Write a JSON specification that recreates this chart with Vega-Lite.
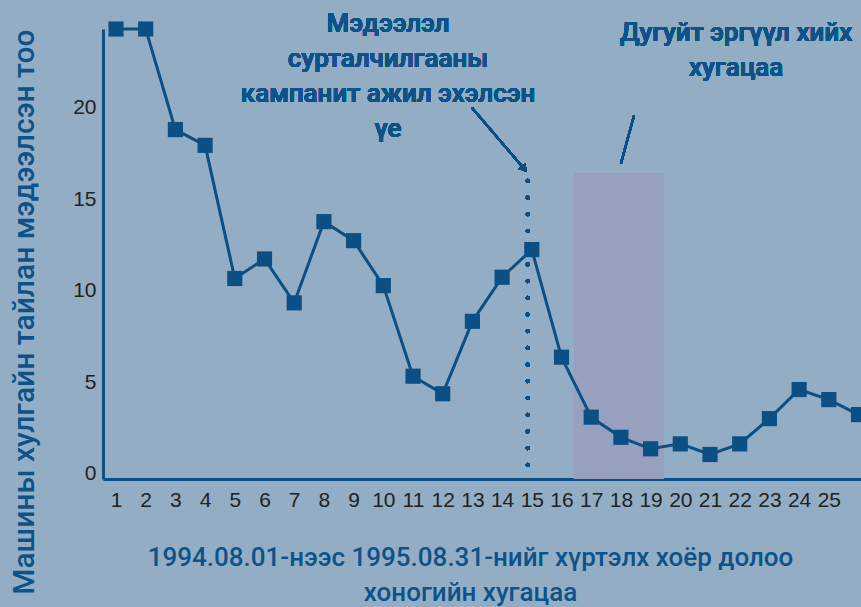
{
  "$schema": "https://vega.github.io/schema/vega-lite/v6.json",
  "width": 770,
  "height": 450,
  "autosize": "none",
  "padding": {"left": 103, "top": 29, "right": 0, "bottom": 128},
  "background": "#93aec4",
  "config": {
    "view": {"stroke": null},
    "axis": {"grid": false, "ticks": false, "domainColor": "#0b4f84", "domainWidth": 3, "labelFont": "Liberation Sans", "labelFontSize": 21, "labelColor": "#222222"}
  },
  "data": {"values": [
    {"week": 1, "count": 24.3},
    {"week": 2, "count": 24.3},
    {"week": 3, "count": 18.8},
    {"week": 4, "count": 17.94},
    {"week": 5, "count": 10.66},
    {"week": 6, "count": 11.73},
    {"week": 7, "count": 9.33},
    {"week": 8, "count": 13.77},
    {"week": 9, "count": 12.73},
    {"week": 10, "count": 10.27},
    {"week": 11, "count": 5.32},
    {"week": 12, "count": 4.36},
    {"week": 13, "count": 8.32},
    {"week": 14, "count": 10.73},
    {"week": 15, "count": 12.24},
    {"week": 16, "count": 6.36},
    {"week": 17, "count": 3.08},
    {"week": 18, "count": 1.98},
    {"week": 19, "count": 1.35},
    {"week": 20, "count": 1.62},
    {"week": 21, "count": 1.04},
    {"week": 22, "count": 1.62},
    {"week": 23, "count": 3.0},
    {"week": 24, "count": 4.59},
    {"week": 25, "count": 4.04},
    {"week": 26, "count": 3.22}
  ]},
  "layer": [
    {
      "mark": {"type": "rect", "fill": "#98a0c0"},
      "encoding": {
        "x": {"datum": 16.42, "type": "quantitative", "scale": {"domain": [0.5623, 26.488], "nice": false, "zero": false}},
        "x2": {"datum": 19.45},
        "y": {"datum": 16.39, "type": "quantitative", "scale": {"domain": [-0.3, 24.3], "nice": false, "zero": false}},
        "y2": {"datum": -0.3}
      }
    },
    {
      "mark": {"type": "line", "color": "#0b4f84", "strokeWidth": 3},
      "encoding": {
        "x": {"field": "week", "type": "quantitative", "scale": {"domain": [0.5623, 26.488], "nice": false, "zero": false},
          "axis": {"values": [1,2,3,4,5,6,7,8,9,10,11,12,13,14,15,16,17,18,19,20,21,22,23,24,25], "tickCount": 40, "format": "d", "labelFlush": false, "labelOverlap": false, "labelPadding": 10,
            "title": ["1994.08.01-нээс 1995.08.31-нийг хүртэлх хоёр долоо", "хоногийн хугацаа"],
            "titleFont": "Roboto", "titleFontSize": 26, "titleFontWeight": 500, "titleColor": "#0d5289", "titleLineHeight": 35,
            "titleX": 367, "titleY": 65, "titleBaseline": "top", "titleAlign": "center"}},
        "y": {"field": "count", "type": "quantitative", "scale": {"domain": [-0.3, 24.3], "nice": false, "zero": false},
          "axis": {"values": [0, 5, 10, 15, 20], "tickCount": 10, "format": "d", "labelPadding": 7,
            "title": "Машины хулгайн тайлан мэдээлсэн тоо",
            "titleFont": "Roboto", "titleFontSize": 30, "titleFontWeight": 500, "titleColor": "#0d5289",
            "titleAnchor": "end", "titleX": -79, "titleBaseline": "middle"}}
      }
    },
    {
      "mark": {"type": "point", "shape": "square", "filled": true, "size": 230, "fill": "#0b4f84", "strokeWidth": 0, "opacity": 1},
      "encoding": {
        "x": {"field": "week", "type": "quantitative"},
        "y": {"field": "count", "type": "quantitative"}
      }
    },
    {
      "mark": {"type": "rule", "color": "#0b4f84", "strokeWidth": 4, "strokeCap": "round", "strokeDash": [0.1, 16.6]},
      "encoding": {
        "x": {"datum": 14.86, "type": "quantitative"},
        "y": {"datum": 16.0, "type": "quantitative"},
        "y2": {"datum": 0.44}
      }
    },
    {
      "mark": {"type": "rule", "color": "#0b4f84", "strokeWidth": 2},
      "encoding": {
        "x": {"datum": 12.98, "type": "quantitative"},
        "x2": {"datum": 14.8},
        "y": {"datum": 20.0, "type": "quantitative"},
        "y2": {"datum": 16.55}
      }
    },
    {
      "mark": {"type": "point", "shape": "triangle-down", "filled": true, "size": 80, "fill": "#0b4f84", "strokeWidth": 0, "opacity": 1, "angle": 319},
      "encoding": {
        "x": {"datum": 14.75, "type": "quantitative"},
        "y": {"datum": 16.65, "type": "quantitative"}
      }
    },
    {
      "mark": {"type": "rule", "color": "#0b4f84", "strokeWidth": 2},
      "encoding": {
        "x": {"datum": 18.44, "type": "quantitative"},
        "x2": {"datum": 18.0},
        "y": {"datum": 19.56, "type": "quantitative"},
        "y2": {"datum": 16.94}
      }
    },
    {
      "mark": {"type": "text", "text": ["Мэдээлэл", "сурталчилгааны", "кампанит ажил эхэлсэн", "үе"], "font": "Roboto", "fontSize": 26, "fontWeight": 500, "fill": "#0d5289", "lineHeight": 35, "align": "center", "baseline": "middle"},
      "encoding": {
        "x": {"datum": 10.16, "type": "quantitative"},
        "y": {"datum": 24.6, "type": "quantitative"}
      }
    },
    {
      "mark": {"type": "text", "text": ["Дугуйт эргүүл хийх", "хугацаа"], "font": "Roboto", "fontSize": 26, "fontWeight": 500, "fill": "#0d5289", "lineHeight": 35, "align": "center", "baseline": "middle"},
      "encoding": {
        "x": {"datum": 21.88, "type": "quantitative"},
        "y": {"datum": 24.1, "type": "quantitative"}
      }
    }
  ]
}
